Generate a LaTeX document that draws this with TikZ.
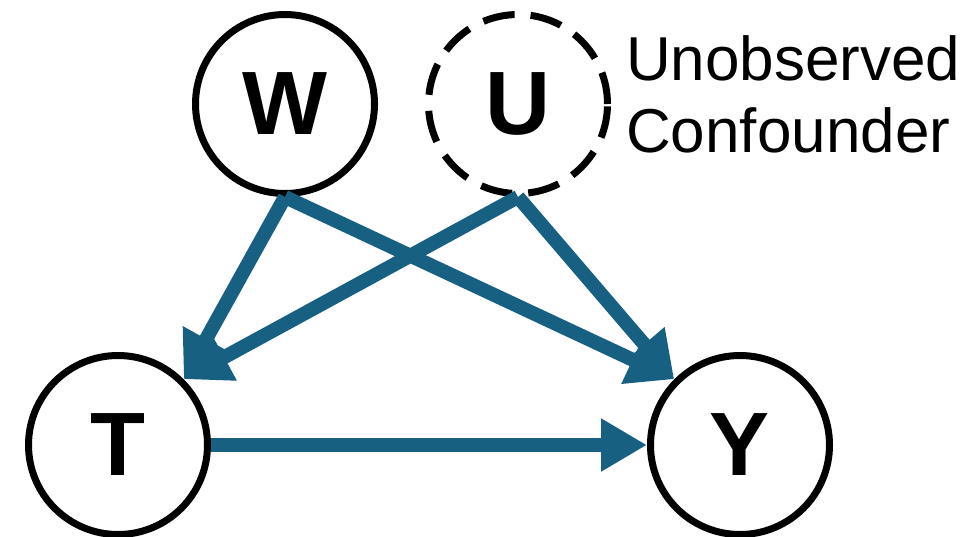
\documentclass[tikz,border=0pt]{standalone}
\usepackage{fontspec}
\setmainfont{Liberation Sans}
\usetikzlibrary{arrows.meta}
\definecolor{arrowblue}{RGB}{24,96,130}
\tikzset{
  var/.style={circle, draw=black, line width=7pt, minimum size=179pt, inner sep=0pt, font=\fontsize{90}{90}\selectfont\bfseries},
  hidden/.style={var, dash pattern=on 32pt off 16pt},
  edge/.style={draw=arrowblue, line width=14pt, -{Triangle[length=46pt,width=50pt]}},
  label/.style={font=\fontsize{62}{72}\selectfont, align=left, inner sep=0pt}
}
\begin{document}
\begin{tikzpicture}[x=1pt,y=-1pt]
\useasboundingbox (0,0) rectangle (971,536);
\node[var] (W) at (285,104) {W};
\node[hidden] (U) at (518,104) {U};
\node[var] (T) at (118,445) {T};
\node[var] (Y) at (740,445) {Y};
\node[label, anchor=base west] (L) at (626,152) {Unobserved\\Confounder};
\draw[edge] (W.south) -- (T.45);
\draw[edge] (U.south) -- (T.45);
\draw[edge] (W.south) -- (Y.135);
\draw[edge] (U.south) -- (Y.135);
\draw[edge] (T.east) -- (Y.west);
\end{tikzpicture}
\end{document}
